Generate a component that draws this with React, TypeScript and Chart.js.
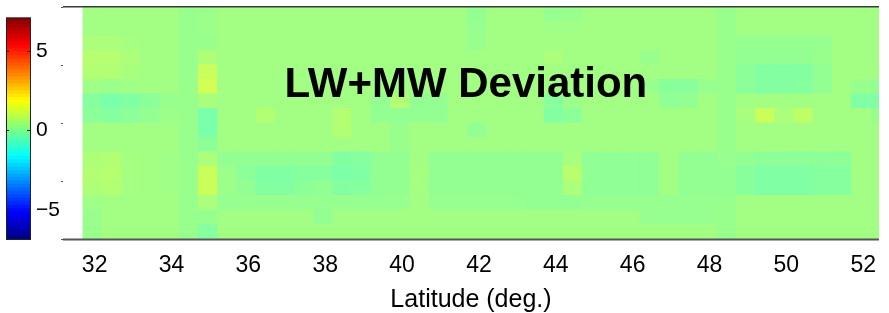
import React, { useEffect, useRef } from "react";
import { Chart, registerables } from "chart.js";

Chart.register(...registerables);

// ---------- data ----------
const latitudeTicks = [32, 34, 36, 38, 40, 42, 44, 46, 48, 50, 52];
const columnCenters = [
  31.95, 32.45, 32.95, 33.45, 33.95, 34.45, 34.95, 35.45, 35.95, 36.45,
  36.95, 37.45, 37.95, 38.45, 38.95, 39.45, 39.95, 40.45, 40.95, 41.45,
  41.95, 42.45, 42.95, 43.45, 43.95, 44.45, 44.95, 45.45, 45.95, 46.45,
  46.95, 47.45, 47.95, 48.45, 48.95, 49.45, 49.95, 50.45, 50.95, 51.45,
  51.95, 52.45,
];
const rowBottoms = [0, 0.25, 0.5, 0.75, 1, 1.25, 1.5, 1.75, 2, 2.25, 2.5, 2.75, 3, 3.25, 3.5, 3.75];
const rowHeight = 0.25;

const dev00 = [.2,.35,.35,.35,.35,.2,-.1,.35,.35,.35, .35,.35,.35,.35,.35,.35,.35,.35,.35,.35, .35,.35,.35,.35,.35,.35,.35,.35,.35,.35, .35,.35,.35,.2,.35,.35,.35,.35,.35,.35, .35,.35];
const dev01 = [.2,.35,.35,.35,.35,.2,.15,.35,.35,.35, .35,.35,.1,.35,.35,.35,.35,.35,.35,.35, .35,.35,.35,.35,.35,.35,.35,.35,.35,.15, .15,.15,.15,.2,.35,.35,.35,.35,.35,.35, .35,.35];
const dev02 = [.3,.35,.35,.35,.35,.2,.5,.15,.15,.15, .15,.15,.15,.15,.15,.15,.15,.35,.15,.15, .15,.15,.15,.1,.1,.1,.15,.15,.15,.15, .15,.15,.15,.2,.35,.35,.35,.35,.35,.35, .35,.35];
const dev03 = [.55,.6,.4,.35,.3,.2,1.0,.25,.1,-.15, -.15,0,.1,-.15,-.1,.1,.1,.4,.1,.1, .1,.1,.1,.1,.1,.5,.05,.05,.05,.05, .35,.1,.1,.1,-.05,-.2,-.2,-.2,-.1,-.1, .35,.35];
const dev04 = [.6,.65,.4,.35,.3,.2,1.0,.25,0,-.2, -.2,-.1,-.1,-.25,-.2,.1,.1,.4,.1,.1, .1,.1,.1,.1,.1,.7,.05,.05,.05,.05, .35,.1,.1,.1,-.05,-.2,-.2,-.2,-.1,-.1, .35,.35];
const dev05 = [.55,.6,.4,.35,.3,.2,.5,.1,.1,.1, .1,.1,.1,-.15,-.1,.1,.1,.35,.1,.1, .1,.1,.1,.1,.1,.45,.05,.05,.05,.05, .35,.1,.1,.15,.1,0,0,0,0,0, .35,.35];
const dev06 = [.35,.35,.35,.35,.35,.2,0,.35,.35,.35, .35,.35,.35,.35,.35,.35,.2,.35,.35,.35, .35,.35,.35,.35,.35,.35,.35,.35,.35,.35, .35,.35,.35,.2,.35,.35,.35,.35,.35,.35, .35,.35];
const dev07 = [.35,.35,.35,.35,.35,.2,-.3,.35,.35,.35, .35,.35,.35,.6,.35,.35,.2,.35,.35,.35, .1,.35,.35,.35,.35,.35,.35,.35,.35,.35, .35,.35,.35,.2,.35,.35,.35,.35,.35,.35, .35,.35];
const dev08 = [0,-.1,0,.1,.25,.2,-.3,.35,.35,.6, .35,.35,.35,.6,.35,.1,.1,.1,.1,.35, .35,.35,.35,.35,-.15,0,.35,.35,.35,.35, .35,.35,.35,.2,.45,1.0,.5,.8,.35,.35, .35,.2];
const dev09 = [-.1,-.3,-.2,0,.2,.2,.45,.35,.35,.35, .35,.35,.35,.35,.35,.1,.6,.1,.1,.35, .35,.35,.35,.35,-.05,.25,.35,.35,.35,.35, .05,.1,.35,.2,.35,.35,.35,.35,.35,.35, -.2,-.2];
const dev10 = [.3,.25,.3,.35,.35,.2,1.1,.35,.35,.35, .35,.35,.35,.35,.35,.35,.35,.35,.35,.35, .35,.35,.35,.35,.35,.35,.35,.35,.35,.2, -.05,-.05,.15,.2,0,-.15,-.15,-.1,.1,.35, .2,.1];
const dev11 = [.6,.6,.45,.35,.35,.2,1.0,.35,.35,.35, .35,.35,.35,.35,.35,.35,.35,.35,.35,.35, .35,.35,.35,.35,.35,.35,.35,.35,.35,.35, .35,.35,.35,.2,0,-.15,-.15,-.15,.1,.35, .35,.35];
const dev12 = [.65,.65,.5,.35,.35,.2,.55,.35,.35,.35, .35,.35,.35,.35,.35,.35,.35,.35,.35,.35, .35,.35,.35,.35,.5,.35,.35,.35,.35,.2, .35,.35,.35,.2,.1,.1,.1,.1,.2,.35, .35,.35];
const dev13 = [.5,.5,.4,.35,.35,.2,.2,.35,.35,.35, .35,.35,.35,.35,.35,.35,.35,.35,.35,.35, .2,.35,.35,.35,.35,.35,.35,.35,.35,.35, .35,.35,.35,.2,.15,.15,.15,.15,.15,.35, .35,.35];
const dev14 = [.35,.35,.35,.35,.35,.2,.25,.35,.35,.35, .35,.35,.35,.35,.35,.35,.35,.35,.35,.35, .15,.35,.35,.35,.3,.3,.35,.35,.35,.35, .35,.35,.35,.2,.35,.35,.35,.35,.35,.35, .35,.35];
const dev15 = [.35,.35,.35,.35,.35,.2,.25,.35,.35,.35, .35,.35,.35,.35,.35,.35,.35,.35,.35,.35, .12,.35,.35,.35,.15,.2,.35,.35,.35,.35, .35,.35,.35,.2,.35,.35,.35,.35,.35,.35, .35,.35];

const deviationRows = [dev00, dev01, dev02, dev03, dev04, dev05, dev06, dev07, dev08, dev09, dev10, dev11, dev12, dev13, dev14, dev15];

const colorbarTicks = [-5, 0, 5];
const colorMin = -6.9;
const colorMax = 7.1;
const titleText = "LW+MW Deviation";
const xLabel = "Latitude (deg.)";

// ---------- styling helpers ----------
const FONT = '"Liberation Sans", Arial, Helvetica, sans-serif';
const X_MIN = 31.177;
const X_MAX = 52.41;
const TITLE_LAT = 41.66;
const TITLE_LEVEL = 2.45;

function clamp01(v: number) {
  return Math.max(0, Math.min(1, v));
}
function jet(t: number): [number, number, number] {
  return [
    clamp01(Math.min(4 * t - 1.5, -4 * t + 4.5)),
    clamp01(Math.min(4 * t - 0.5, -4 * t + 3.5)),
    clamp01(Math.min(4 * t + 0.5, -4 * t + 2.5)),
  ];
}
function rgb(c: [number, number, number], wash = 0) {
  const f = (x: number) => Math.round((1 - wash) * x * 255 + wash * 255);
  return `rgb(${f(c[0])},${f(c[1])},${f(c[2])})`;
}
function heatColor(v: number) {
  const t = (v - colorMin) / (colorMax - colorMin);
  return rgb(jet(t), 0.15);
}

const heatFramePlugin = {
  id: "heatFrame",
  afterDatasetsDraw(chart: any) {
    const { ctx, chartArea, scales } = chart;
    const { left, right, top, bottom } = chartArea;
    ctx.save();
    ctx.fillStyle = "#3a3a3a";
    ctx.fillRect(left, top - 1, right - left, 1.5);
    ctx.fillStyle = "#555555";
    ctx.fillRect(left, bottom - 0.5, right - left, 2);
    ctx.font = `bold 42px ${FONT}`;
    ctx.fillStyle = "#000";
    ctx.textAlign = "center";
    ctx.textBaseline = "alphabetic";
    ctx.fillText(titleText, scales.x.getPixelForValue(TITLE_LAT), scales.y.getPixelForValue(TITLE_LEVEL));
    ctx.restore();
  },
};

const colorbarFramePlugin = {
  id: "cbFrame",
  afterDatasetsDraw(chart: any) {
    const { ctx, chartArea, scales } = chart;
    const { left, right, top, bottom } = chartArea;
    ctx.save();
    ctx.strokeStyle = "#222";
    ctx.lineWidth = 1;
    ctx.strokeRect(left + 0.5, top + 0.5, right - left - 1, bottom - top - 1);
    ctx.beginPath();
    for (const v of colorbarTicks) {
      const py = Math.round(scales.y.getPixelForValue(v)) + 0.5;
      ctx.moveTo(left, py);
      ctx.lineTo(left + 3, py);
      ctx.moveTo(right - 4, py);
      ctx.lineTo(right, py);
    }
    ctx.stroke();
    ctx.restore();
  },
};

export default function App() {
  const heatRef = useRef<HTMLCanvasElement | null>(null);
  const barRef = useRef<HTMLCanvasElement | null>(null);

  useEffect(() => {
    if (!heatRef.current || !barRef.current) return;

    const heatDatasets = deviationRows.map((row, j) => ({
      type: "bar" as const,
      data: columnCenters.map((c) => ({ x: c, y: [rowBottoms[j], rowBottoms[j] + rowHeight] })),
      backgroundColor: row.map((v) => heatColor(v)),
      borderWidth: 0,
      grouped: false,
      barPercentage: 1,
      categoryPercentage: 1,
      inflateAmount: 0.5,
      clip: 0,
    }));

    const heat = new Chart(heatRef.current, {
      type: "bar",
      data: { datasets: heatDatasets as any },
      options: {
        responsive: false,
        animation: false,
        events: [],
        layout: { padding: { left: 0, right: 0, top: 7, bottom: 0 } },
        plugins: { legend: { display: false }, tooltip: { enabled: false }, title: { display: false } },
        scales: {
          x: {
            type: "linear",
            offset: false,
            min: X_MIN,
            max: X_MAX,
            afterFit: (s: any) => {
              s.height = 74;
            },
            afterBuildTicks: (s: any) => {
              s.ticks = latitudeTicks.map((v) => ({ value: v }));
            },
            ticks: {
              autoSkip: false,
              maxRotation: 0,
              color: "#000",
              padding: 13,
              font: { size: 23, family: FONT },
            },
            grid: { display: false, drawTicks: false, offset: false },
            border: { display: false },
            title: {
              display: true,
              text: xLabel,
              color: "#000",
              padding: 0,
              font: { size: 25, family: FONT, lineHeight: 1 },
            },
          },
          y: {
            type: "linear",
            min: 0,
            max: 4,
            afterFit: (s: any) => {
              s.width = 63;
            },
            ticks: { display: false, stepSize: 1 },
            grid: { display: true, drawOnChartArea: false, drawTicks: true, tickLength: 2, color: "#555" },
            border: { display: false },
          },
        },
      } as any,
      plugins: [heatFramePlugin],
    });

    const slices = 64;
    const step = (colorMax - colorMin) / slices;
    const barDatasets = Array.from({ length: slices }, (_, k) => ({
      data: [[colorMin + k * step, colorMin + (k + 1) * step]],
      backgroundColor: rgb(jet((k + 0.5) / slices)),
      borderWidth: 0,
      grouped: false,
      barPercentage: 1,
      categoryPercentage: 1,
      inflateAmount: 0.5,
    }));

    const bar = new Chart(barRef.current, {
      type: "bar",
      data: { labels: [""], datasets: barDatasets as any },
      options: {
        responsive: false,
        animation: false,
        events: [],
        layout: { padding: { left: 6, right: 0, top: 7, bottom: 73 } },
        plugins: { legend: { display: false }, tooltip: { enabled: false } },
        scales: {
          x: { type: "category", display: false },
          y: {
            type: "linear",
            position: "right",
            min: colorMin,
            max: colorMax,
            afterFit: (s: any) => {
              s.width = 32;
            },
            afterBuildTicks: (s: any) => {
              s.ticks = colorbarTicks.map((v) => ({ value: v }));
            },
            ticks: {
              color: "#000",
              padding: 5,
              font: { size: 21, family: FONT },
              callback: (v: any) => (Number(v) < 0 ? "\u2212" + Math.abs(Number(v)) : String(v)),
            },
            grid: { display: false, drawTicks: false },
            border: { display: false },
          },
        },
      } as any,
      plugins: [colorbarFramePlugin],
    });

    return () => {
      heat.destroy();
      bar.destroy();
    };
  }, []);

  return (
    <div style={{ position: "fixed", left: 0, top: 0, width: 889, height: 313, background: "#fff", overflow: "hidden" }}>
      <canvas ref={heatRef} width={889} height={313} style={{ position: "absolute", left: 0, top: 0 }} />
      <canvas ref={barRef} width={63} height={313} style={{ position: "absolute", left: 0, top: 0 }} />
    </div>
  );
}
